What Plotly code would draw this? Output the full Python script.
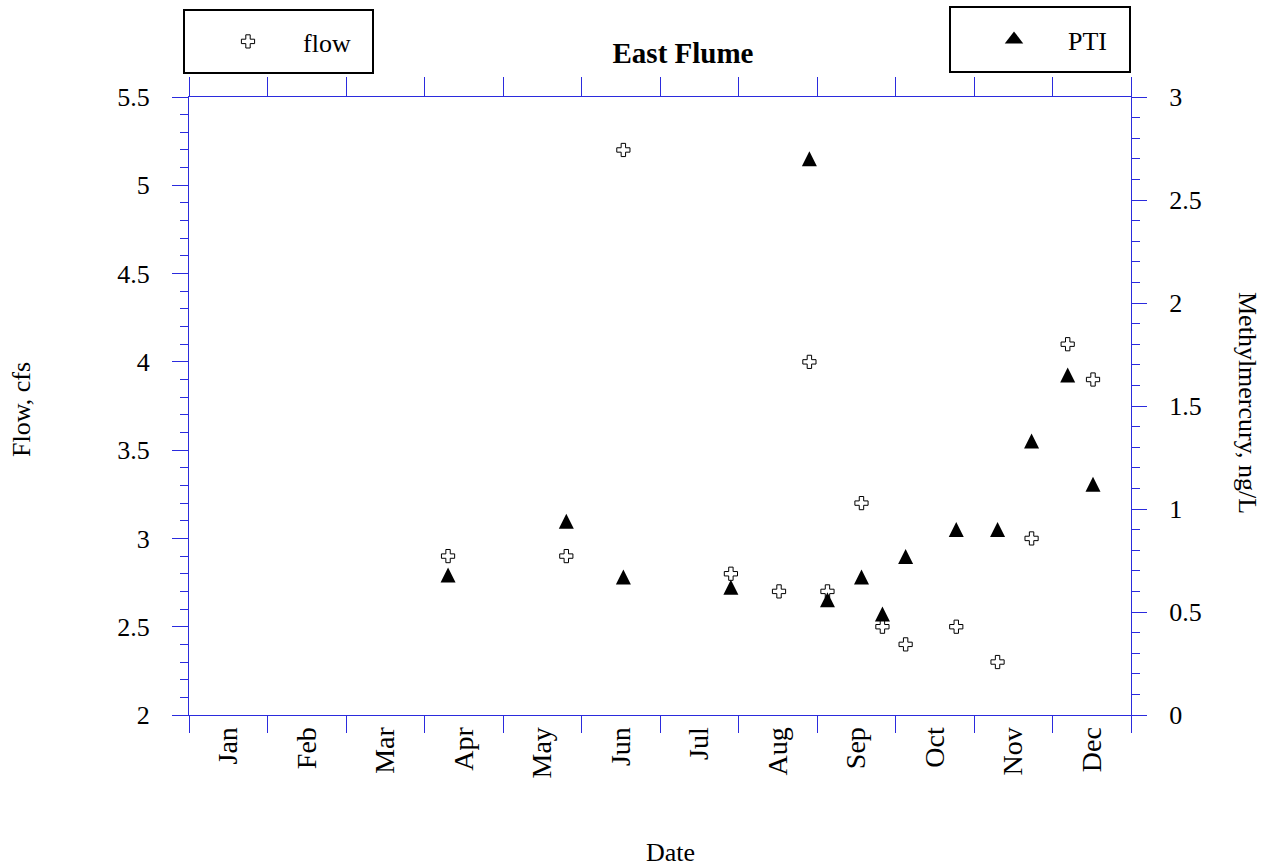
import calendar
import plotly.graph_objects as go

# ---- data ----
months = ["Jan", "Feb", "Mar", "Apr", "May", "Jun",
          "Jul", "Aug", "Sep", "Oct", "Nov", "Dec"]

flow_dates = ["04-10", "05-26", "06-17", "07-29", "08-17", "08-29", "09-05",
              "09-18", "09-26", "10-05", "10-25", "11-10", "11-23", "12-07", "12-17"]
flow_cfs = [2.9, 2.9, 5.2, 2.8, 2.7, 4.0, 2.7, 3.2, 2.5, 2.4, 2.5, 2.3, 3.0, 4.1, 3.9]

pti_dates = ["04-10", "05-26", "06-17", "07-29", "08-29", "09-05", "09-18",
             "09-26", "10-05", "10-25", "11-10", "11-23", "12-07", "12-17"]
pti_mehg = [0.68, 0.94, 0.67, 0.62, 2.70, 0.56, 0.67, 0.49, 0.77, 0.90, 0.90,
            1.33, 1.65, 1.12]


def month_pos(md):
    m, d = (int(v) for v in md.split("-"))
    return (m - 1) + (d - 1) / calendar.monthrange(2001, m)[1]


flow_x = [month_pos(d) for d in flow_dates]
pti_x = [month_pos(d) for d in pti_dates]

blue = "#2b2bdd"
FONT = "Liberation Serif"

fig = go.Figure()
fig.add_trace(go.Scatter(
    x=flow_x, y=flow_cfs, mode="markers", name="flow",
    marker=dict(symbol="cross", size=11, color="white",
                line=dict(color="black", width=1)),
    legend="legend", xaxis="x", yaxis="y", cliponaxis=False))
fig.add_trace(go.Scatter(
    x=pti_x, y=pti_mehg, mode="markers", name="PTI", legendgroup="pti",
    marker=dict(symbol="arrow-down", angle=180, size=15, standoff=7.5,
                color="black", line=dict(width=0)),
    showlegend=False, xaxis="x2", yaxis="y2", cliponaxis=False))
# legend entry for the PTI series (same group, no points of its own)
fig.add_trace(go.Scatter(
    x=[None], y=[None], mode="markers", name="PTI", legendgroup="pti",
    marker=dict(symbol="triangle-up", size=16, color="black",
                line=dict(width=0)),
    legend="legend2", xaxis="x2", yaxis="y2", hoverinfo="skip"))

fig.update_layout(
    width=1275, height=867,
    margin=dict(l=189, r=144, t=97, b=152),
    plot_bgcolor="white", paper_bgcolor="white",
    font=dict(family=FONT, size=26, color="black"),
    title=dict(text="<b>East Flume</b>", x=683 / 1275, y=1 - 53 / 867,
               xanchor="center", yanchor="middle",
               font=dict(family=FONT, size=29, color="black")),
    xaxis=dict(range=[0, 12], tickmode="array",
               tickvals=[i + 0.5 for i in range(12)], ticktext=months,
               tickangle=-90, ticks="", showline=True, linecolor=blue,
               linewidth=1, showgrid=False, zeroline=False,
               tickfont=dict(size=28),
               minor=dict(tickmode="array", tickvals=list(range(13)),
                          ticks="outside", ticklen=17, tickcolor=blue,
                          tickwidth=1, showgrid=False)),
    xaxis2=dict(range=[0, 12], overlaying="x", side="top", anchor="y",
                tickmode="array", tickvals=list(range(13)),
                ticks="outside", ticklen=19, tickcolor=blue, tickwidth=1,
                showticklabels=False, showline=True, linecolor=blue,
                linewidth=1, showgrid=False, zeroline=False),
    yaxis=dict(range=[2, 5.5], tick0=2, dtick=0.5, ticks="outside",
               ticklen=16, tickcolor=blue, tickwidth=1, showline=True,
               linecolor=blue, linewidth=1, showgrid=False, zeroline=False,
               ticklabelstandoff=17,
               minor=dict(dtick=0.1, tick0=2, ticks="outside", ticklen=8,
                          tickcolor=blue, tickwidth=1, showgrid=False)),
    yaxis2=dict(range=[0, 3], tick0=0, dtick=0.5, overlaying="y",
                side="right", anchor="x2", ticks="outside", ticklen=15,
                tickcolor=blue, tickwidth=1, showline=True, linecolor=blue,
                linewidth=1, showgrid=False, zeroline=False,
                ticklabelstandoff=17,
                minor=dict(dtick=0.1, tick0=0, ticks="outside", ticklen=8,
                           tickcolor=blue, tickwidth=1, showgrid=False)),
    showlegend=True,
    legend=dict(x=(193 - 189) / 942, y=(715 - 41.5) / 618,
                xanchor="left", yanchor="middle",
                bgcolor="rgba(0,0,0,0)", borderwidth=0, itemwidth=100,
                font=dict(family=FONT, size=26, color="black")),
    legend2=dict(x=(960 - 189) / 942, y=(715 - 39.5) / 618,
                 xanchor="left", yanchor="middle",
                 bgcolor="rgba(0,0,0,0)", borderwidth=0, itemwidth=98,
                 font=dict(family=FONT, size=26, color="black")),
    shapes=[
        dict(type="rect", xref="paper", yref="paper",
             x0=(184 - 189) / 942, x1=(373 - 189) / 942,
             y0=(715 - 73) / 618, y1=(715 - 10) / 618,
             line=dict(color="black", width=2), fillcolor="rgba(0,0,0,0)"),
        dict(type="rect", xref="paper", yref="paper",
             x0=(950 - 189) / 942, x1=(1130 - 189) / 942,
             y0=(715 - 72) / 618, y1=(715 - 7) / 618,
             line=dict(color="black", width=2), fillcolor="rgba(0,0,0,0)"),
    ],
    annotations=[
        dict(text="Flow, cfs", xref="paper", yref="paper",
             x=(22 - 189) / 942, y=(715 - 410) / 618, textangle=-90,
             showarrow=False, xanchor="center", yanchor="middle",
             font=dict(family=FONT, size=26, color="black")),
        dict(text="Methylmercury, ng/L", xref="paper", yref="paper",
             x=(1248 - 189) / 942, y=(715 - 403) / 618, textangle=90,
             showarrow=False, xanchor="center", yanchor="middle",
             font=dict(family=FONT, size=26, color="black")),
        dict(text="Date", xref="paper", yref="paper",
             x=(670 - 189) / 942, y=(715 - 852) / 618,
             showarrow=False, xanchor="center", yanchor="middle",
             font=dict(family=FONT, size=26, color="black")),
    ],
)

fig.write_html("out.html")
